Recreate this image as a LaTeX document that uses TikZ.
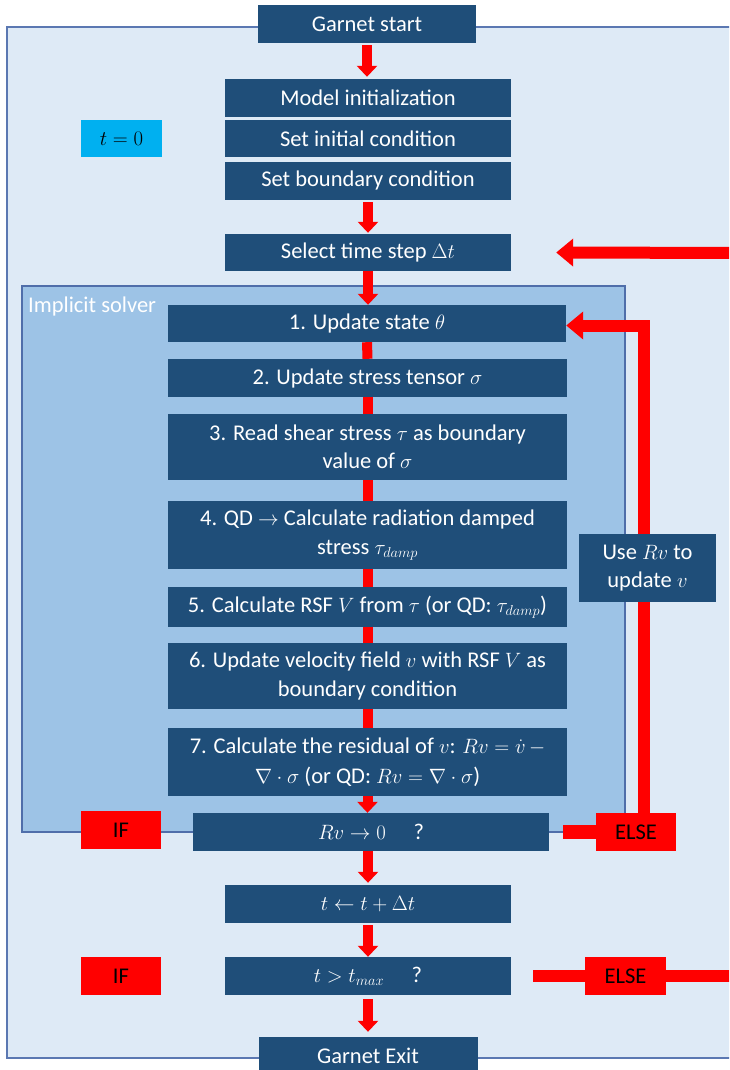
\documentclass[tikz,border=0pt]{standalone}
\usepackage{amsmath}
\usepackage{fontspec}
\setmainfont{Carlito}
\usetikzlibrary{arrows.meta}

\definecolor{boxblue}{HTML}{1F4E79}
\definecolor{outerfill}{HTML}{DEEAF6}
\definecolor{outerline}{HTML}{5B78B2}
\definecolor{solverfill}{HTML}{9DC3E6}
\definecolor{solverline}{HTML}{4F6EAA}
\definecolor{flowred}{HTML}{FF0000}
\definecolor{tcyan}{HTML}{00B0F0}

\tikzset{
  txt/.style={font=\fontsize{22.5}{28.5}\selectfont},
  stepbox/.style={txt, fill=boxblue, text=white, align=center, inner sep=0pt,
    minimum height=#1},
  stepbox/.default=38pt,
  tagbox/.style={txt, fill=flowred, text=black, inner sep=0pt,
    minimum width=80pt, minimum height=38pt},
  flow/.style={draw=flowred, line width=10pt,
    -{Triangle[width=20pt,length=11pt]}},
  link/.style={draw=flowred, line width=10pt},
  loopline/.style={draw=flowred, line width=12pt},
  looparrow/.style={draw=flowred, line width=12pt,
    -{Triangle[width=27pt,length=17pt]}},
}

\begin{document}
\begin{tikzpicture}[x=1pt, y=-1pt]
\useasboundingbox (0,0) rectangle (729,1070);
\clip (0,0) rectangle (729,1070);
\fill[white] (0,0) rectangle (729,1070);

% outer program frame and the implicit solver block
\draw[fill=outerfill, draw=outerline, line width=2pt] (7,27) rectangle (760,1058);
\draw[fill=solverfill, draw=solverline, line width=2pt] (22,286) rectangle (625,832);
\node[txt, text=white, anchor=north west, inner sep=0pt] (solverlbl) at (28,297) {Implicit solver};

% initialisation
\node[stepbox, minimum width=218pt] (start) at (367,24) {Garnet start};
\node[stepbox, minimum width=286pt] (init) at (368,98) {Model initialization};
\node[stepbox, minimum width=286pt, minimum height=37pt] (ic) at (368,138.5) {Set initial condition};
\node[stepbox, minimum width=286pt] (bc) at (368,181) {Set boundary condition};
\node[txt, fill=tcyan, text=black, inner sep=0pt, minimum width=81pt, minimum height=37pt] (t0) at (121.5,138.5) {$t=0$};
\node[stepbox, minimum width=286pt, minimum height=37pt] (dt) at (368,252.5) {Select time step $\Delta t$};

% implicit solver steps
\node[stepbox, minimum width=398pt, minimum height=37pt] (s1) at (367,323.5) {1. Update state $\theta$};
\node[stepbox, minimum width=399pt] (s2) at (367.5,378) {2. Update stress tensor $\sigma$};
\node[stepbox=66pt, minimum width=399pt] (s3) at (367.5,447) {3. Read shear stress $\tau$ as boundary\\ value of $\sigma$};
\node[stepbox=68pt, minimum width=399pt] (s4) at (367.5,535) {4. QD $\rightarrow$ Calculate radiation damped\\ stress $\tau_{damp}$};
\node[stepbox=40pt, minimum width=399pt] (s5) at (367.5,607) {5. Calculate RSF $V$ from $\tau$ (or QD: $\tau_{damp}$)};
\node[stepbox=66pt, minimum width=399pt] (s6) at (367.5,676) {6. Update velocity field $v$ with RSF $V$ as\\ boundary condition};
\node[stepbox=68pt, minimum width=399pt] (s7) at (367.5,762) {7. Calculate the residual of $v$: $Rv=\dot{v}\,-$\\[1pt] $\nabla\cdot\sigma$ (or QD: $Rv=\nabla\cdot\sigma$)};

% convergence test
\node[stepbox, minimum width=356pt] (rv) at (371,832) {$Rv\rightarrow 0\quad$ ?};
\node[tagbox] (if1) at (121,830) {IF};
\node[tagbox] (else1) at (636,832) {ELSE};

% time update and end test
\node[stepbox, minimum width=286pt] (tinc) at (368,904) {$t\leftarrow t+\Delta t$};
\node[stepbox, minimum width=286pt] (tmax) at (368,976) {$t>t_{max}\quad$ ?};
\node[tagbox] (if2) at (121,976) {IF};
\node[tagbox, minimum width=81pt] (else2) at (625.5,976) {ELSE};
\node[stepbox, minimum width=219pt] (exit) at (368,1056) {Garnet Exit};

% main flow, kept strictly vertical
\draw[flow] ([yshift=-2pt]start.south) -- ([yshift=2pt]start.south |- init.north);
\draw[flow] ([yshift=-2pt]bc.south) -- ([yshift=1pt]dt.north);
\draw[flow] (dt.south) -- (dt.south |- s1.north);
\foreach \a/\b in {s1/s2, s2/s3, s3/s4, s4/s5, s5/s6, s6/s7}
  \draw[link] (\a.south) -- (\b.north);
\draw[flow] (s7.south) -- (s7.south |- rv.north);
\draw[flow] (rv.south -| tinc.north) -- ([yshift=2pt]tinc.north);
\draw[flow] ([yshift=-2pt]tinc.south) -- (tmax.north);
\draw[flow] ([yshift=-4pt]tmax.south) -- ([yshift=5pt]exit.north);

% outer time loop back to the time step selection
\coordinate (loopin) at (745,253);
\draw[looparrow] (loopin) -- ([xshift=45pt]dt.east);
\coordinate (loopout) at (745,976);
\draw[loopline] ([xshift=22pt]tmax.east) -- (else2.west);
\draw[loopline] (else2.east) -- (loopout);

% inner solver iteration
\draw[draw=flowred, line width=14pt] ([xshift=14pt]rv.east) -- (else1.west);
\draw[looparrow] ([xshift=8pt]else1.north) |- ([yshift=-2pt]s1.east);
\node[stepbox=68pt, minimum width=137pt] (use) at (647.5,568) {Use $Rv$ to\\ update $v$};
\end{tikzpicture}
\end{document}
